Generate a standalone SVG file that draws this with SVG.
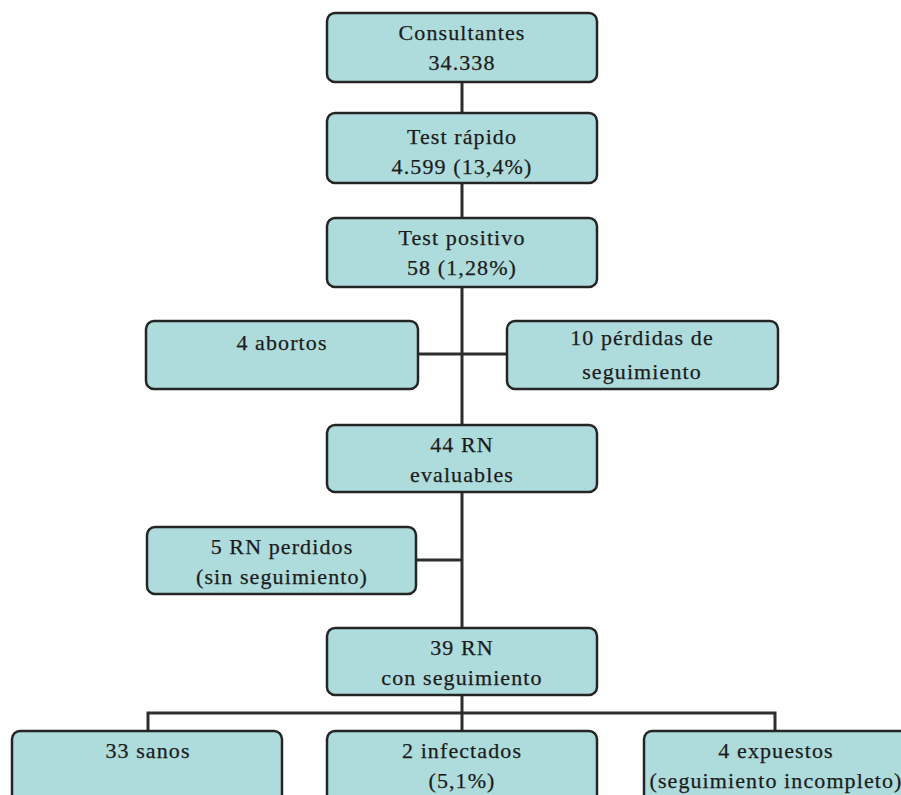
<svg xmlns="http://www.w3.org/2000/svg" width="901" height="795" viewBox="0 0 901 795">
<style>
.box{fill:#aedbdb;stroke:#252525;stroke-width:2.5}
.t{font-family:"Liberation Serif","Times New Roman",serif;font-size:22px;letter-spacing:1.1px;fill:#1c1c1c;stroke:#1c1c1c;stroke-width:0.25;text-anchor:middle}
.c{stroke:#2e2e2e;stroke-width:3;fill:none}
</style>
<rect width="901" height="795" fill="#ffffff"/>
<g id="connectors">
<path class="c" d="M462 82V627"/>
<path class="c" d="M418 354H507"/>
<path class="c" d="M416 560H462"/>
<path class="c" d="M462 695V731"/>
<path class="c" d="M148 731V713H775V731"/>
</g>
<g id="n1"><rect class="box" x="327" y="13" width="270" height="69" rx="8"/><text class="t" x="462" y="40">Consultantes</text><text class="t" x="462" y="70">34.338</text></g>
<g id="n2"><rect class="box" x="327" y="113" width="270" height="70" rx="8"/><text class="t" x="462" y="144">Test rápido</text><text class="t" x="462" y="174">4.599 (13,4%)</text></g>
<g id="n3"><rect class="box" x="327" y="218" width="270" height="69" rx="8"/><text class="t" x="462" y="245">Test positivo</text><text class="t" x="462" y="275">58 (1,28%)</text></g>
<g id="n4"><rect class="box" x="146" y="321" width="272" height="68" rx="8"/><text class="t" x="282" y="350">4 abortos</text></g>
<g id="n5"><rect class="box" x="507" y="321" width="271" height="68" rx="8"/><text class="t" x="642" y="345">10 pérdidas de</text><text class="t" x="642" y="379">seguimiento</text></g>
<g id="n6"><rect class="box" x="327" y="425" width="270" height="67" rx="8"/><text class="t" x="462" y="452">44 RN</text><text class="t" x="462" y="482">evaluables</text></g>
<g id="n7"><rect class="box" x="147" y="527" width="269" height="67" rx="8"/><text class="t" x="282" y="554">5 RN perdidos</text><text class="t" x="282" y="584">(sin seguimiento)</text></g>
<g id="n8"><rect class="box" x="327" y="628" width="270" height="67" rx="8"/><text class="t" x="462" y="655">39 RN</text><text class="t" x="462" y="685">con seguimiento</text></g>
<g id="n9"><rect class="box" x="12" y="731" width="270" height="80" rx="8"/><text class="t" x="148" y="758">33 sanos</text></g>
<g id="n10"><rect class="box" x="327" y="731" width="270" height="80" rx="8"/><text class="t" x="462" y="758">2 infectados</text><text class="t" x="462" y="788">(5,1%)</text></g>
<g id="n11"><rect class="box" x="644" y="731" width="270" height="80" rx="8"/><text class="t" x="776" y="758">4 expuestos</text><text class="t" x="776" y="788">(seguimiento incompleto)</text></g>
</svg>
